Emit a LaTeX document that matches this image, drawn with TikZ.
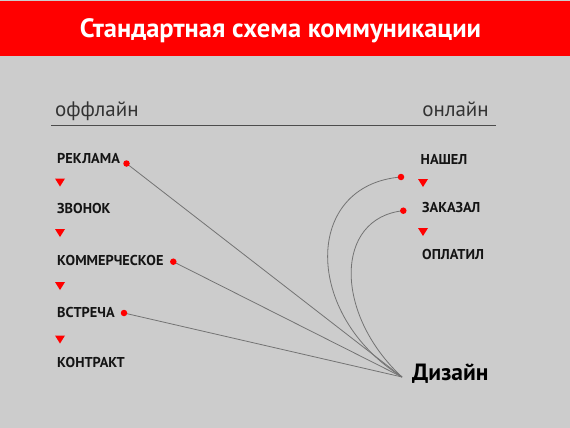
\documentclass[tikz,border=0pt]{standalone}
\usepackage{fontspec}
\setmainfont{PT Sans}
\begin{document}
\begin{tikzpicture}[x=1pt,y=-1pt,
  lbl/.style={anchor=base west,inner sep=0pt,font=\bfseries\fontsize{14.3}{16}\selectfont,text=black!92},
  head/.style={inner sep=0pt,font=\fontsize{21}{24}\selectfont,text=black!80},
  tri/.style={fill=red,draw=none},
  dot/.style={circle,fill=red,draw=none,minimum size=6.5pt,inner sep=0pt},
  link/.style={draw=black!55,line width=0.8pt}]
\fill[black!20] (0,0) rectangle (570,428);
\useasboundingbox (0,0) rectangle (570,428);
\fill[red] (0,1) rectangle (570,56);
\node[anchor=base,inner sep=0pt,text=white,font=\bfseries\fontsize{26.5}{30}\selectfont] (title) at (280.5,37.7) {Стандартная схема коммуникации};
\node[head,anchor=base west] (off) at (55,116) {оффлайн};
\node[head,anchor=base east] (on) at (489,116) {онлайн};
\coordinate (l1) at (51,125.5);
\coordinate (l2) at (496,125.5);
\draw[black!70,line width=0.9pt] (l1) -- (l2);
% left column
\node[lbl] (a1) at (57,163.5) {РЕКЛАМА};
\node[lbl] (a2) at (57,213) {ЗВОНОК};
\node[lbl] (a3) at (57,265) {КОММЕРЧЕСКОЕ};
\node[lbl] (a4) at (57,317) {ВСТРЕЧА};
\node[lbl] (a5) at (57,367) {КОНТРАКТ};
\foreach \y in {178.5,229,282,335.5}{\fill[tri] (55,\y) -- (65,\y) -- (60,\y+8) -- cycle;}
% right column
\node[lbl] (b1) at (420.5,164.3) {НАШЕЛ};
\node[lbl] (b2) at (422,212.7) {ЗАКАЗАЛ};
\node[lbl] (b3) at (422,259.3) {ОПЛАТИЛ};
\foreach \y in {179,228}{\fill[tri] (418,\y) -- (428,\y) -- (423,\y+8) -- cycle;}
% target
\node[anchor=base west,inner sep=0pt,font=\bfseries\fontsize{23.5}{26}\selectfont,text=black] (d) at (412,380.7) {Дизайн};
\coordinate (c) at (402,377);
% connectors
\coordinate (p1c) at (126.5,163.5);
\coordinate (p3c) at (173.3,261.7);
\coordinate (p4c) at (124,313);
\coordinate (q1c) at (401,177);
\coordinate (q2c) at (403.3,210.7);
\draw[link] (p1c) -- (c);
\draw[link] (p3c) -- (c);
\draw[link] (p4c) -- (c);
\draw[link] (q1c) .. controls (303,185) and (303,315) .. (c);
\draw[link] (q2c) .. controls (334,218) and (334,314) .. (c);
% dots
\node[dot] (p1) at (p1c) {};
\node[dot] (p3) at (p3c) {};
\node[dot] (p4) at (p4c) {};
\node[dot] (q1) at (q1c) {};
\node[dot] (q2) at (q2c) {};
\end{tikzpicture}
\end{document}
